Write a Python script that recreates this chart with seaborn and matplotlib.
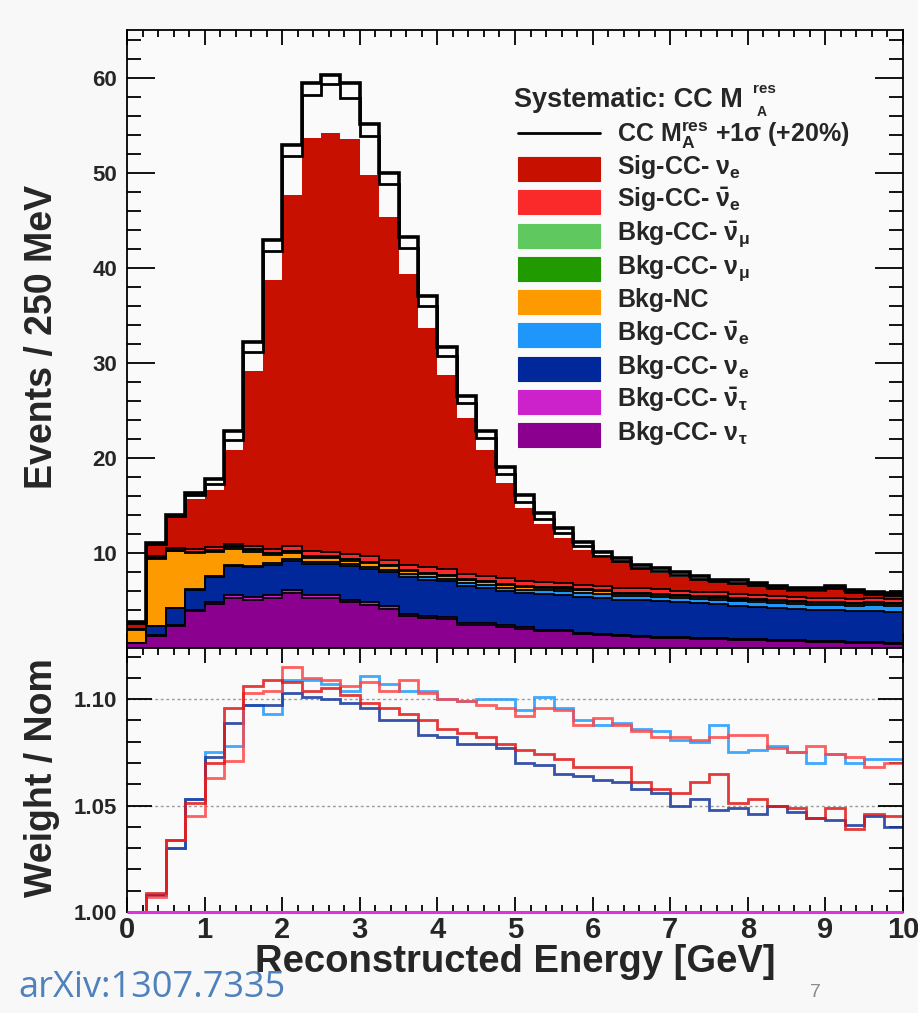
import numpy as np
import pandas as pd
import matplotlib
matplotlib.use("Agg")
import matplotlib.pyplot as plt
import seaborn as sns
from matplotlib.patches import Rectangle
from matplotlib.lines import Line2D
from matplotlib.ticker import MultipleLocator, FixedLocator

# 40 bins of 250 MeV from 0 to 10 GeV
edges = np.linspace(0, 10, 41)
centers = edges[:-1] + 0.125

# nominal stack components (events per bin), bottom -> top
bkg_nutau = [0.5, 1.3, 2.3, 3.85, 4.6, 5.3, 5.1, 5.3, 5.75, 5.3, 5.3, 4.8, 4.5, 4.15, 3.35, 3.15, 3.1, 2.4, 2.4, 2.2,
             2.05, 1.75, 1.75, 1.45, 1.35, 1.25, 1.15, 1.05, 1.05, 0.95, 0.9, 0.8, 0.8, 0.7, 0.7, 0.6, 0.6, 0.5, 0.5, 0.45]
bkg_nutaubar = [0.0, 0.1, 0.1, 0.15, 0.2, 0.3, 0.3, 0.3, 0.35, 0.3, 0.3, 0.3, 0.3, 0.25, 0.25, 0.25, 0.2, 0.2, 0.2, 0.2,
                0.15, 0.15, 0.15, 0.15, 0.15, 0.15, 0.15, 0.15, 0.15, 0.15, 0.1, 0.1, 0.1, 0.1, 0.1, 0.1, 0.1, 0.1, 0.1, 0.05]
bkg_nue = [0.02, 0.9, 1.8, 2.1, 2.7, 3.0, 3.1, 3.1, 3.1, 3.2, 3.2, 3.5, 3.5, 3.6, 3.9, 3.8, 3.7, 3.9, 3.7, 3.6,
           3.6, 3.8, 3.7, 3.8, 3.8, 3.7, 3.7, 3.7, 3.6, 3.6, 3.6, 3.5, 3.4, 3.4, 3.3, 3.3, 3.3, 3.3, 3.3, 3.3]
bkg_nuebar = [0.0, 0.02, 0.05, 0.1, 0.1, 0.15, 0.15, 0.2, 0.2, 0.2, 0.2, 0.2, 0.25, 0.25, 0.25, 0.3, 0.3, 0.3, 0.3, 0.35,
              0.35, 0.35, 0.4, 0.4, 0.4, 0.4, 0.45, 0.45, 0.45, 0.45, 0.5, 0.5, 0.5, 0.5, 0.5, 0.55, 0.55, 0.55, 0.6, 0.6]
bkg_nc = [1.4, 7.0, 5.9, 3.8, 2.5, 1.7, 1.4, 0.9, 0.6, 0.5, 0.45, 0.4, 0.4, 0.35, 0.35, 0.3, 0.3, 0.3, 0.3, 0.3,
          0.25, 0.25, 0.25, 0.25, 0.25, 0.2, 0.2, 0.2, 0.2, 0.2, 0.2, 0.2, 0.2, 0.2, 0.2, 0.2, 0.2, 0.2, 0.2, 0.2]
bkg_numu = [0.05, 0.1, 0.1, 0.1, 0.15, 0.2, 0.3, 0.2, 0.2, 0.15, 0.15, 0.15, 0.1, 0.1, 0.1, 0.1, 0.1, 0.1, 0.1, 0.1,
            0.1, 0.1, 0.1, 0.1, 0.1, 0.1, 0.1, 0.1, 0.1, 0.1, 0.1, 0.1, 0.1, 0.1, 0.1, 0.1, 0.1, 0.1, 0.1, 0.1]
bkg_numubar = [0.02, 0.02, 0.02, 0.02, 0.03, 0.03, 0.03, 0.03, 0.03, 0.03, 0.03, 0.03, 0.03, 0.03, 0.03, 0.03, 0.03,
               0.03, 0.03, 0.03, 0.02, 0.02, 0.02, 0.02, 0.02, 0.02, 0.02, 0.02, 0.02, 0.02, 0.02, 0.02, 0.02, 0.02,
               0.02, 0.02, 0.02, 0.02, 0.02, 0.02]
sig_nuebar = [0.05, 0.2, 0.2, 0.25, 0.3, 0.3, 0.35, 0.4, 0.45, 0.5, 0.5, 0.55, 0.55, 0.55, 0.55, 0.55, 0.55, 0.55, 0.55,
              0.55, 0.5, 0.5, 0.5, 0.5, 0.5, 0.5, 0.5, 0.5, 0.45, 0.45, 0.45, 0.45, 0.45, 0.4, 0.4, 0.4, 0.4, 0.4,
              0.4, 0.4]
# nominal total (top of the Sig-CC-nue fill)
total_nominal = [2.6, 10.8, 13.8, 15.7, 16.6, 20.8, 29.1, 38.7, 47.6, 53.6, 54.2, 53.5, 49.8, 45.3, 39.3, 33.7, 28.7,
                 24.2, 20.8, 17.4, 14.7, 13.0, 11.6, 10.3, 9.5, 9.0, 8.3, 7.9, 7.5, 7.2, 6.9, 6.7, 6.5, 6.2, 5.9, 5.9,
                 6.2, 5.8, 5.6, 5.5]
# shifted (CC MA res +1 sigma) totals, drawn as black outlines
shift_outer = [2.7, 11.0, 14.0, 16.3, 17.8, 22.8, 32.2, 42.9, 52.9, 59.4, 60.3, 59.4, 55.1, 50.0, 43.2, 37.0, 31.7,
               26.5, 22.8, 19.0, 16.1, 14.2, 12.6, 11.2, 10.1, 9.5, 8.7, 8.4, 8.0, 7.6, 7.2, 7.1, 6.8, 6.5, 6.3, 6.3,
               6.5, 6.1, 5.9, 5.8]
shift_inner = [2.65, 10.9, 13.9, 16.1, 17.3, 21.9, 31.1, 41.8, 51.7, 58.2, 59.3, 57.9, 53.8, 48.8, 42.1, 36.0, 30.7,
               25.8, 22.1, 18.3, 15.4, 13.6, 12.1, 10.7, 9.7, 9.1, 8.4, 8.1, 7.7, 7.3, 7.0, 6.8, 6.6, 6.3, 6.1, 6.1,
               6.3, 5.9, 5.7, 5.6]

# weight / nominal ratios
ratio_bkg_nue = [1.000, 1.008, 1.030, 1.053, 1.073, 1.089, 1.097, 1.097, 1.103, 1.101, 1.100, 1.098, 1.096, 1.090,
                 1.090, 1.083, 1.082, 1.079, 1.079, 1.077, 1.070, 1.069, 1.065, 1.064, 1.062, 1.061, 1.058, 1.056,
                 1.050, 1.053, 1.048, 1.049, 1.046, 1.050, 1.047, 1.044, 1.043, 1.041, 1.045, 1.040]
ratio_bkg_nuebar = [1.000, 1.008, 1.030, 1.053, 1.075, 1.078, 1.097, 1.093, 1.109, 1.109, 1.107, 1.104, 1.111, 1.107,
                    1.104, 1.104, 1.100, 1.099, 1.100, 1.100, 1.095, 1.101, 1.096, 1.090, 1.088, 1.089, 1.086, 1.085,
                    1.081, 1.080, 1.088, 1.075, 1.076, 1.078, 1.075, 1.070, 1.074, 1.070, 1.072, 1.072]
ratio_sig_nue = [1.000, 1.009, 1.034, 1.051, 1.070, 1.096, 1.106, 1.109, 1.108, 1.104, 1.105, 1.102, 1.098, 1.096,
                 1.093, 1.090, 1.086, 1.084, 1.082, 1.079, 1.076, 1.074, 1.072, 1.068, 1.068, 1.068, 1.061, 1.058,
                 1.056, 1.061, 1.065, 1.051, 1.053, 1.050, 1.049, 1.044, 1.049, 1.039, 1.046, 1.045]
ratio_sig_nuebar = [1.000, 1.007, 1.034, 1.045, 1.063, 1.071, 1.103, 1.104, 1.115, 1.110, 1.109, 1.106, 1.108, 1.104,
                    1.109, 1.103, 1.100, 1.099, 1.097, 1.096, 1.092, 1.096, 1.095, 1.088, 1.091, 1.088, 1.085, 1.082,
                    1.082, 1.081, 1.082, 1.083, 1.083, 1.077, 1.075, 1.078, 1.074, 1.073, 1.068, 1.070]
ratio_bkg_nutaubar = [1.0] * 40

names = ["Sig-CC-nue", "Sig-CC-nuebar", "Bkg-CC-numubar", "Bkg-CC-numu", "Bkg-NC",
         "Bkg-CC-nuebar", "Bkg-CC-nue", "Bkg-CC-nutaubar", "Bkg-CC-nutau"]
labels = [r"Sig-CC- $\mathrm{\nu}_{\mathrm{e}}$", r"Sig-CC- $\bar{\mathrm{\nu}}_{\mathrm{e}}$",
          r"Bkg-CC- $\bar{\mathrm{\nu}}_{\mathrm{\mu}}$", r"Bkg-CC- $\mathrm{\nu}_{\mathrm{\mu}}$", "Bkg-NC",
          r"Bkg-CC- $\bar{\mathrm{\nu}}_{\mathrm{e}}$", r"Bkg-CC- $\mathrm{\nu}_{\mathrm{e}}$",
          r"Bkg-CC- $\bar{\mathrm{\nu}}_{\mathrm{\tau}}$", r"Bkg-CC- $\mathrm{\nu}_{\mathrm{\tau}}$"]
colors = ["#c81000", "#fa2a2a", "#5fc85f", "#219a00", "#fd9a00",
          "#1e96fa", "#00289a", "#cc22cc", "#8c0090"]

bkg_layers = [bkg_nutau, bkg_nutaubar, bkg_nue, bkg_nuebar, bkg_nc, bkg_numu, bkg_numubar, sig_nuebar]
below = np.sum(bkg_layers, axis=0)
sig_nue = np.clip(np.array(total_nominal) - below, 0, None)

values = {"Sig-CC-nue": sig_nue, "Sig-CC-nuebar": sig_nuebar, "Bkg-CC-numubar": bkg_numubar,
          "Bkg-CC-numu": bkg_numu, "Bkg-NC": bkg_nc, "Bkg-CC-nuebar": bkg_nuebar, "Bkg-CC-nue": bkg_nue,
          "Bkg-CC-nutaubar": bkg_nutaubar, "Bkg-CC-nutau": bkg_nutau}
df = pd.concat([pd.DataFrame({"energy": centers, "events": values[n], "comp": n}) for n in names],
               ignore_index=True)

sns.set_style("ticks")
plt.rcParams["font.family"] = ["Liberation Sans", "DejaVu Sans"]
plt.rcParams["font.weight"] = "bold"
plt.rcParams["mathtext.fontset"] = "custom"
plt.rcParams["mathtext.rm"] = "Liberation Sans"
plt.rcParams["mathtext.it"] = "Liberation Sans:italic"
plt.rcParams["mathtext.bf"] = "Liberation Sans:bold"

W, H = 918, 1013
fig = plt.figure(figsize=(W / 100, H / 100), dpi=100, facecolor="#f8f8f8")


def fx(px):
    return px / W


def fy(py):
    return 1 - py / H


ax_top = fig.add_axes([fx(127), fy(648), fx(903) - fx(127), fy(30) - fy(648)])
ax_bot = fig.add_axes([fx(127), fy(912), fx(903) - fx(127), fy(648) - fy(912)])
for ax in (ax_top, ax_bot):
    ax.set_facecolor("#fafafa")
    for s in ax.spines.values():
        s.set_linewidth(1.3)
        s.set_color("black")

# stacked histogram
sns.histplot(data=df, x="energy", weights="events", hue="comp", hue_order=names, bins=list(edges),
             multiple="stack", element="step", palette=dict(zip(names, colors)), alpha=1,
             linewidth=0, legend=False, ax=ax_top)

# black outlines for stacked background boundaries
cum = np.cumsum(bkg_layers, axis=0)
for level in cum:
    ax_top.stairs(level, edges, baseline=None, color="black", lw=1.3)
ax_top.stairs(shift_inner, edges, baseline=None, color="black", lw=2.0)
ax_top.stairs(shift_outer, edges, baseline=None, color="black", lw=2.6)

ax_top.set_xlim(0, 10)
ax_top.set_ylim(0, 65)
ax_top.set_xlabel("")
ax_top.set_ylabel("")
ax_top.xaxis.set_major_locator(MultipleLocator(1))
ax_top.xaxis.set_minor_locator(MultipleLocator(0.2))
ax_top.yaxis.set_major_locator(FixedLocator([10, 20, 30, 40, 50, 60]))
ax_top.yaxis.set_minor_locator(MultipleLocator(2))
ax_top.tick_params(which="both", direction="in", top=True, right=True, labelbottom=False, color="black", width=1.3)
ax_top.tick_params(axis="y", which="major", length=20, labelsize=16, pad=7)
ax_top.tick_params(axis="y", which="minor", length=10)
ax_top.tick_params(axis="x", which="major", length=11)
ax_top.tick_params(axis="x", which="minor", length=5)

# ratio panel
ax_bot.grid(axis="y", which="major", ls=(0, (2, 2)), color="#9a9a9a", lw=1)
ax_bot.stairs(ratio_bkg_nutaubar, edges, baseline=None, color="#dd33dd", lw=2.2, zorder=3, clip_on=False)
ax_bot.stairs(ratio_bkg_nuebar, edges, baseline=None, color="#2aa0ff", lw=2, alpha=0.9)
ax_bot.stairs(ratio_bkg_nue, edges, baseline=None, color="#2040a0", lw=2, alpha=0.9)
ax_bot.stairs(ratio_sig_nuebar, edges, baseline=None, color="#ff4545", lw=2, alpha=0.85)
ax_bot.stairs(ratio_sig_nue, edges, baseline=None, color="#e01818", lw=2, alpha=0.85)
ax_bot.set_xlim(0, 10)
ax_bot.set_ylim(1.0, 1.124)
ax_bot.xaxis.set_major_locator(MultipleLocator(1))
ax_bot.xaxis.set_minor_locator(MultipleLocator(0.2))
ax_bot.yaxis.set_major_locator(FixedLocator([1.00, 1.05, 1.10]))
ax_bot.yaxis.set_minor_locator(MultipleLocator(0.01))
ax_bot.set_yticklabels(["1.00", "1.05", "1.10"])
ax_bot.set_xticks(range(11))
ax_bot.set_xticklabels([str(i) for i in range(11)])
ax_bot.tick_params(which="both", direction="in", top=True, right=True, color="black", width=1.3)
ax_bot.tick_params(axis="y", which="major", length=18, labelsize=16, pad=7)
ax_bot.tick_params(axis="y", which="minor", length=10)
ax_bot.tick_params(axis="x", which="major", length=11, labelsize=21, pad=3)
ax_bot.tick_params(axis="x", which="minor", length=5)

# axis titles
fig.text(fx(42), fy(337), "Events / 250 MeV", rotation=90, ha="center", va="center", fontsize=27, weight="bold")
fig.text(fx(42), fy(778), "Weight / Nom", rotation=90, ha="center", va="center", fontsize=27, weight="bold")
fig.text(fx(515), fy(962), "Reconstructed Energy [GeV]", ha="center", va="center", fontsize=27.5, weight="bold")
fig.text(fx(815), fy(992), "7", ha="center", va="center", fontsize=14, color="#8c8c8c", weight="normal")
fig.text(fx(18), fy(988), "arXiv:1307.7335", ha="left", va="center", fontsize=26, color="#4f81bd",
         weight="normal", family=["Open Sans", "DejaVu Sans"])

# legend
fig.text(fx(514), fy(107), "Systematic: CC M", ha="left", va="baseline", fontsize=19.5, weight="bold")
fig.text(fx(753), fy(93), "res", ha="left", va="baseline", fontsize=11, weight="bold")
fig.text(fx(757), fy(116), "A", ha="left", va="baseline", fontsize=10, weight="bold")
fig.add_artist(Line2D([fx(518), fx(600)], [fy(133), fy(133)], color="black", lw=2, transform=fig.transFigure))
fig.text(fx(617), fy(142), r"CC M$^{\mathbf{res}}_{\mathbf{A}}$ +1$\mathrm{\sigma}$ (+20%)", ha="left",
         va="baseline", fontsize=18, weight="bold")
for i, (lab, col) in enumerate(zip(labels, colors)):
    top = 157 + 33.3 * i
    fig.add_artist(Rectangle((fx(518), fy(top + 24)), fx(600) - fx(518), 24 / H, transform=fig.transFigure,
                             facecolor=col, edgecolor=col, lw=0.8))
    fig.text(fx(617), fy(top + 17), lab, ha="left", va="baseline", fontsize=18, weight="bold")

plt.savefig("out.png", dpi=100, facecolor=fig.get_facecolor())
